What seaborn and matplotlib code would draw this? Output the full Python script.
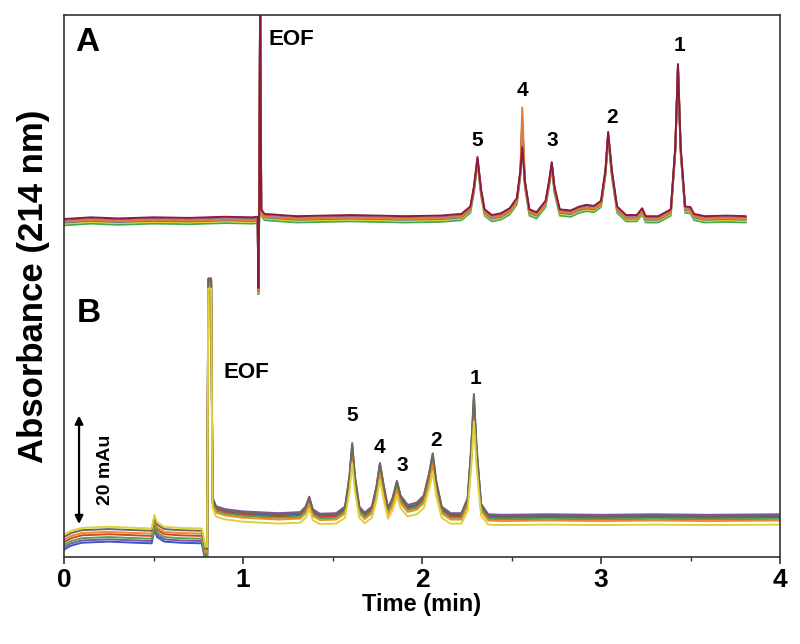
import numpy as np
import pandas as pd
import seaborn as sns
from matplotlib import pyplot as plt
from matplotlib.ticker import MultipleLocator

##### Data #####
# panel A (top run, dark red), absorbance in mAU vs time in min
time_a = [0.00, 0.15, 0.30, 0.50, 0.70, 0.90, 1.05, 1.082, 1.086, 1.090, 1.096, 1.102, 1.12,
          1.30, 1.60, 1.90, 2.10, 2.22, 2.27, 2.29, 2.31, 2.33, 2.35, 2.39, 2.44,
          2.49, 2.53, 2.55, 2.56, 2.575, 2.60, 2.64, 2.69, 2.71, 2.725, 2.74, 2.77,
          2.83, 2.88, 2.92, 2.96, 3.00, 3.025, 3.04, 3.06, 3.09, 3.14, 3.20, 3.23,
          3.25, 3.32, 3.39, 3.415, 3.43, 3.445, 3.47, 3.50, 3.52, 3.58, 3.70, 3.81]
signal_a = [59.3, 59.6, 59.4, 59.6, 59.5, 59.7, 59.6, 59.7, 47.2, 59.8, 100.0, 61.0, 60.2,
            59.8, 60.0, 59.8, 59.9, 60.2, 61.5, 65.0, 70.2, 64.5, 61.0, 60.0, 60.3,
            61.2, 63.0, 68.0, 72.0, 66.0, 61.0, 60.5, 62.5, 66.0, 69.3, 65.0, 61.0,
            60.8, 61.5, 61.8, 61.6, 62.5, 68.0, 74.6, 68.0, 61.5, 60.0, 60.0, 61.2,
            59.8, 59.8, 61.0, 72.0, 86.5, 72.0, 61.5, 61.4, 60.2, 59.8, 59.9, 59.8]
runs_a = ['green', 'yellow', 'blue', 'purple', 'gray', 'orange', 'maroon']
colors_a = ['#45a84e', '#ddd12a', '#4562c4', '#7f55a8', '#8a8a8a', '#e67a30', '#8c1a3c']
offset_a = [-1.1, -0.8, -0.6, -0.3, -0.4, -0.5, 0.0]
peak4_a = [72.8, 74.4, 77.2, 75.8, 73.5, 78.9, 71.9]   # apex of peak 4 per run
peak4_time_a = 2.56

# panel B, signal above baseline
time_b = [0.00, 0.04, 0.10, 0.25, 0.40, 0.49, 0.505, 0.52, 0.56, 0.65, 0.77, 0.79, 0.80,
          0.806, 0.822, 0.830, 0.85, 0.90, 1.00, 1.20, 1.32, 1.35, 1.37, 1.39, 1.43,
          1.52, 1.57, 1.595, 1.61, 1.625, 1.65, 1.68, 1.72, 1.745, 1.765, 1.785, 1.81,
          1.835, 1.86, 1.88, 1.92, 1.97, 2.01, 2.04, 2.06, 2.08, 2.11, 2.16, 2.22,
          2.255, 2.275, 2.29, 2.305, 2.33, 2.37, 2.45, 2.70, 3.00, 3.30, 3.60, 4.00]
signal_b = [-1.2, -0.5, 0.0, 0.2, 0.0, -0.1, 2.3, 1.0, 0.2, 0.0, -0.1, -3.3, -3.3,
            41.5, 41.5, 3.0, 1.5, 1.0, 0.6, 0.3, 0.5, 1.5, 3.3, 1.0, 0.2,
            0.3, 1.5, 7.0, 12.8, 7.0, 1.5, 0.4, 1.5, 5.0, 9.3, 5.5, 1.3,
            3.0, 6.1, 3.5, 1.8, 2.2, 3.5, 7.5, 11.0, 6.0, 1.5, 0.3, 0.3,
            3.0, 12.0, 21.4, 12.0, 2.0, 0.1, 0.0, 0.1, 0.0, 0.1, 0.0, 0.1]
runs_b = ['blue', 'purple', 'red', 'green', 'orange', 'gray', 'yellow']
colors_b = ['#3d55c8', '#8452a6', '#d9412e', '#4aa84a', '#ef8a2a', '#6d6a55', '#ddd23a']
offset_pre_b = [2.5, 2.9, 3.8, 3.3, 4.2, 4.7, 5.1]    # baseline before EOF
offset_post_b = [7.0, 7.4, 6.8, 6.6, 6.3, 7.2, 5.6]   # baseline after EOF
gain_b = [0.95, 0.97, 0.90, 0.92, 0.90, 1.00, 0.85]   # relative peak height
eof_time_b = 0.803

peak_labels = ['1', '2', '3', '4', '5']
label_time_a = [3.44, 3.06, 2.73, 2.56, 2.31]
label_abs_a = [88.1, 75.4, 71.4, 80.2, 71.4]
label_time_b = [2.30, 2.08, 1.89, 1.765, 1.61]
label_abs_b = [29.6, 18.8, 14.4, 17.5, 23.2]

##### Build long tables #####
t_a = np.array(time_a)
rows = []
for run, off, p4 in zip(runs_a, offset_a, peak4_a):
    y = np.array(signal_a) + off
    y[np.argmin(abs(t_a - peak4_time_a))] = p4
    rows.append(pd.DataFrame({'time': t_a, 'abs': y, 'run': run}))
df_a = pd.concat(rows)

t_b = np.array(time_b)
rows = []
for run, pre, post, g in zip(runs_b, offset_pre_b, offset_post_b, gain_b):
    base = np.where(t_b < eof_time_b, pre, post)
    y = base + np.array(signal_b) * np.where(t_b > 1.0, g, 1.0)
    rows.append(pd.DataFrame({'time': t_b, 'abs': y, 'run': run}))
df_b = pd.concat(rows)

##### Plot #####
sns.set_style('white')
plt.rcParams['font.family'] = ['Liberation Sans', 'DejaVu Sans']
plt.rcParams['font.weight'] = 'bold'
plt.rcParams['text.color'] = 'black'
plt.rcParams['axes.labelcolor'] = 'black'
plt.rcParams['xtick.color'] = 'black'

fig = plt.figure(figsize=(8, 6.44), dpi=100)
ax = fig.add_axes([0.08, 0.1351, 0.895, 0.8416])

sns.lineplot(data=df_b, x='time', y='abs', hue='run', hue_order=runs_b,
             palette=dict(zip(runs_b, colors_b)), estimator=None, sort=False,
             lw=1.4, legend=False, ax=ax)
sns.lineplot(data=df_a, x='time', y='abs', hue='run', hue_order=runs_a,
             palette=dict(zip(runs_a, colors_a)), estimator=None, sort=False,
             lw=1.4, legend=False, ax=ax)

ax.set_xlim(0, 4)
ax.set_ylim(0, 95.1)
ax.set_yticks([])
ax.xaxis.set_major_locator(MultipleLocator(1))
ax.xaxis.set_minor_locator(MultipleLocator(0.5))
ax.tick_params(axis='x', which='major', direction='out', length=5, width=1.2,
               bottom=True, labelsize=19, pad=3, color='#333333', labelcolor='black')
ax.tick_params(axis='x', which='minor', direction='out', length=3, width=1.0,
               bottom=True, color='#333333')
for s in ax.spines.values():
    s.set_color('#333333')
    s.set_linewidth(1.2)

ax.set_xlabel('Time (min)', fontsize=17, fontweight='bold', labelpad=1)
ax.set_ylabel('Absorbance (214 nm)', fontsize=25, fontweight='bold', labelpad=10)

# panel letters and EOF
ax.text(0.13, 90.3, 'A', fontsize=24, fontweight='bold', ha='center', va='center')
ax.text(0.14, 42.8, 'B', fontsize=24, fontweight='bold', ha='center', va='center')
ax.text(1.145, 88.9, 'EOF', fontsize=16, fontweight='bold', ha='left', va='bottom')
ax.text(0.89, 30.5, 'EOF', fontsize=16, fontweight='bold', ha='left', va='bottom')

# peak numbers
for lab, x, y in zip(peak_labels, label_time_a, label_abs_a):
    ax.text(x, y, lab, fontsize=15, fontweight='bold', ha='center', va='bottom')
for lab, x, y in zip(peak_labels, label_time_b, label_abs_b):
    ax.text(x, y, lab, fontsize=15, fontweight='bold', ha='center', va='bottom')

# 20 mAu scale bar
ax.annotate('', xy=(0.084, 25.3), xytext=(0.084, 5.3),
            arrowprops=dict(arrowstyle='<|-|>', color='black', lw=1.6,
                            mutation_scale=12))
ax.text(0.23, 15.3, '20 mAu', fontsize=14, fontweight='bold', rotation=90,
        ha='center', va='center')

fig.savefig('out.png', dpi=100)
